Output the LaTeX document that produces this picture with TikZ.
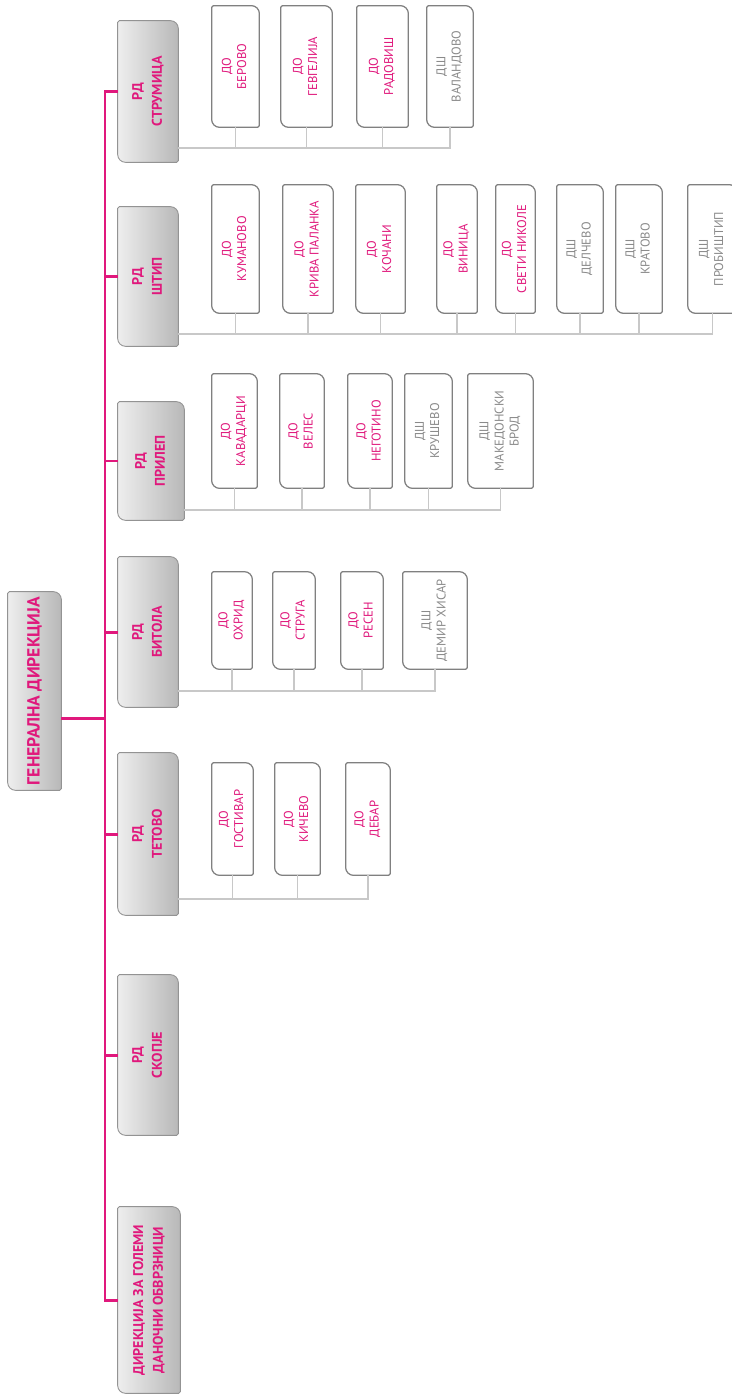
\documentclass[tikz,border=0pt]{standalone}
\usepackage{fontspec}
\setmainfont{PT Sans}
\usetikzlibrary{backgrounds}
\definecolor{rubine}{HTML}{E0187C}
\definecolor{boxline}{HTML}{808080}
\definecolor{busgrey}{HTML}{C8C8C8}
\definecolor{dsgrey}{HTML}{8A8A8A}
\definecolor{shadelight}{HTML}{EEEEEE}
\definecolor{shadedark}{HTML}{B8B8B8}
\newcommand{\vtext}[2]{\rotatebox{90}{\begin{tabular}{@{}c@{}}#1\\#2\end{tabular}}}
% frame with two rounded corners (top right, bottom left)
\newcommand{\cutbox}[2]{%
  \path[#2] ([yshift=-1pt]#1.north west) arc[start angle=180,end angle=90,radius=1pt]
    -- ([xshift=-4.5pt]#1.north east) arc[start angle=90,end angle=0,radius=4.5pt]
    -- ([yshift=1pt]#1.south east) arc[start angle=0,end angle=-90,radius=1pt]
    -- ([xshift=4.5pt]#1.south west) arc[start angle=270,end angle=180,radius=4.5pt]
    -- cycle;}
\tikzset{
  mainBox/.style={inner sep=0pt, text=rubine, font=\fontsize{10}{12}\selectfont\bfseries},
  rdBox/.style={inner sep=0pt, minimum width=1.2cm, text=rubine, font=\fontsize{8}{11.2}\selectfont\bfseries},
  doBox/.style={inner sep=0pt, text=rubine, font=\fontsize{7.2}{8.6}\selectfont},
  dsBox/.style={doBox, text=dsgrey},
  greyShade/.style={left color=shadelight, right color=shadedark, draw=boxline!85, line width=0.5pt},
  whiteFrame/.style={fill=white, draw=boxline, line width=0.7pt},
  pinkLink/.style={draw=rubine, line width=1.7pt},
  greyLink/.style={draw=busgrey, line width=1.1pt}
}

\begin{document}
\begin{tikzpicture}[x=0.02cm, y=-0.02cm]
  \useasboundingbox (0,0) rectangle (732,1399);

  % head office
  \node[mainBox, minimum width=1.06cm, minimum height=3.96cm] (main) at (34.5,691) {\rotatebox{90}{ГЕНЕРАЛНА ДИРЕКЦИЈА}};

  % regional offices
  \node[rdBox, minimum height=2.82cm] (strumica) at (148,91.5) {\vtext{РД}{СТРУМИЦА}};
  \node[rdBox, minimum height=2.78cm] (stip) at (148,276.5) {\vtext{РД}{ШТИП}};
  \node[rdBox, minimum width=1.32cm, minimum height=2.36cm] (prilep) at (151,461) {\vtext{РД}{ПРИЛЕП}};
  \node[rdBox, minimum height=3.0cm] (bitola) at (148,632) {\vtext{РД}{БИТОЛА}};
  \node[rdBox, minimum height=3.24cm] (tetovo) at (148,834) {\vtext{РД}{ТЕТОВО}};
  \node[rdBox, minimum height=3.2cm] (skopje) at (148,1055) {\vtext{РД}{СКОПЈЕ}};
  \node[rdBox, minimum width=1.24cm, minimum height=3.72cm] (direkcija) at (149,1300) {\vtext{ДИРЕКЦИЈА ЗА ГОЛЕМИ}{ДАНОЧНИ ОБВРЗНИЦИ}};

  % Strumica
  \node[doBox, minimum width=0.94cm, minimum height=2.42cm] (berovo) at (235.5,66.5) {\vtext{ДО}{БЕРОВО}};
  \node[doBox, minimum width=1.02cm, minimum height=2.42cm] (gevgelija) at (306.5,66.5) {\vtext{ДО}{ГЕВГЕЛИЈА}};
  \node[doBox, minimum width=1.02cm, minimum height=2.42cm] (radovis) at (382.5,66.5) {\vtext{ДО}{РАДОВИШ}};
  \node[dsBox, minimum width=0.92cm, minimum height=2.42cm] (valandovo) at (450,66.5) {\vtext{ДШ}{ВАЛАНДОВО}};

  % Stip
  \node[doBox, minimum width=0.94cm, minimum height=2.56cm] (kumanovo) at (235.5,249) {\vtext{ДО}{КУМАНОВО}};
  \node[doBox, minimum width=1.0cm, minimum height=2.56cm] (kriva) at (308,249) {\vtext{ДО}{КРИВА ПАЛАНКА}};
  \node[doBox, minimum width=0.98cm, minimum height=2.56cm] (kocani) at (380.5,249) {\vtext{ДО}{КОЧАНИ}};
  \node[doBox, minimum width=0.8cm, minimum height=2.56cm] (vinica) at (457,249) {\vtext{ДО}{ВИНИЦА}};
  \node[doBox, minimum width=0.78cm, minimum height=2.56cm] (sveti) at (515.5,249) {\vtext{ДО}{СВЕТИ НИКОЛЕ}};
  \node[dsBox, minimum width=0.92cm, minimum height=2.56cm] (delcevo) at (580,249) {\vtext{ДШ}{ДЕЛЧЕВО}};
  \node[dsBox, minimum width=0.92cm, minimum height=2.56cm] (kratovo) at (639,249) {\vtext{ДШ}{КРАТОВО}};
  \node[dsBox, minimum width=0.98cm, minimum height=2.56cm] (probistip) at (712.5,249) {\vtext{ДШ}{ПРОБИШТИП}};

  % Prilep
  \node[doBox, minimum width=0.9cm, minimum height=2.28cm] (kavadarci) at (234.5,431) {\vtext{ДО}{КАВАДАРЦИ}};
  \node[doBox, minimum width=0.88cm, minimum height=2.28cm] (veles) at (302,431) {\vtext{ДО}{ВЕЛЕС}};
  \node[doBox, minimum width=0.88cm, minimum height=2.28cm] (negotino) at (370,431) {\vtext{ДО}{НЕГОТИНО}};
  \node[dsBox, minimum width=0.94cm, minimum height=2.28cm] (krusevo) at (428.5,431) {\vtext{ДШ}{КРУШЕВО}};
  \node[dsBox, minimum width=1.3cm, minimum height=2.28cm] (makbrod) at (500.5,431) {\vtext{ДШ}{МАКЕДОНСКИ\\БРОД}};

  % Bitola
  \node[doBox, minimum width=0.8cm, minimum height=1.94cm] (ohrid) at (232,620.5) {\vtext{ДО}{ОХРИД}};
  \node[doBox, minimum width=0.84cm, minimum height=1.94cm] (struga) at (294,620.5) {\vtext{ДО}{СТРУГА}};
  \node[doBox, minimum width=0.84cm, minimum height=1.94cm] (resen) at (362,620.5) {\vtext{ДО}{РЕСЕН}};
  \node[dsBox, minimum width=1.28cm, minimum height=1.94cm] (demir) at (435,620.5) {\vtext{ДШ}{ДЕМИР ХИСАР}};

  % Tetovo
  \node[doBox, minimum width=0.82cm, minimum height=2.24cm] (gostivar) at (232.5,819) {\vtext{ДО}{ГОСТИВАР}};
  \node[doBox, minimum width=0.9cm, minimum height=2.24cm] (kicevo) at (297.5,819) {\vtext{ДО}{КИЧЕВО}};
  \node[doBox, minimum width=0.88cm, minimum height=2.24cm] (debar) at (368,819) {\vtext{ДО}{ДЕБАР}};

  \begin{scope}[on background layer]
    \cutbox{main}{greyShade}
    \foreach \r in {strumica,stip,prilep,bitola,tetovo,skopje,direkcija}
      {\cutbox{\r}{greyShade}}
    \foreach \c in {berovo,gevgelija,radovis,valandovo,kumanovo,kriva,kocani,vinica,sveti,delcevo,kratovo,probistip,kavadarci,veles,negotino,krusevo,makbrod,ohrid,struga,resen,demir,gostivar,kicevo,debar}
      {\cutbox{\c}{whiteFrame}}
  \end{scope}

  % pink tree
  \coordinate (hub) at (105,718);
  \draw[pinkLink] (main.east |- hub) -- (hub);
  \foreach \r in {strumica,stip,prilep,bitola,tetovo,skopje,direkcija}
    \draw[pinkLink] (\r.west) -| (hub);

  % grey buses
  \coordinate (strumicaBus) at (178,148);
  \coordinate (stipBus) at (178,334);
  \coordinate (prilepBus) at (184,510);
  \coordinate (bitolaBus) at (178,691);
  \coordinate (tetovoBus) at (178,899);
  \foreach \c in {berovo,gevgelija,radovis,valandovo}
    \draw[greyLink] (\c.south) |- (strumicaBus);
  \foreach \c in {kumanovo,kriva,kocani,vinica,sveti,delcevo,kratovo,probistip}
    \draw[greyLink] (\c.south) |- (stipBus);
  \foreach \c in {kavadarci,veles,negotino,krusevo,makbrod}
    \draw[greyLink] (\c.south) |- (prilepBus);
  \foreach \c in {ohrid,struga,resen,demir}
    \draw[greyLink] (\c.south) |- (bitolaBus);
  \foreach \c in {gostivar,kicevo,debar}
    \draw[greyLink] (\c.south) |- (tetovoBus);
\end{tikzpicture}
\end{document}
